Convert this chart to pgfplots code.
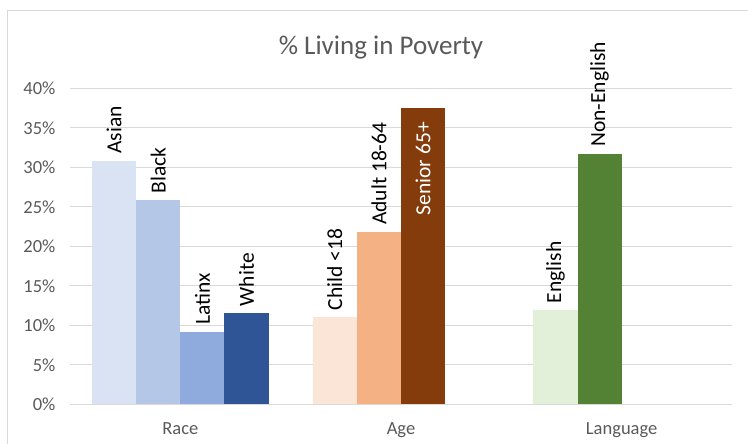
\documentclass[border=0pt]{standalone}
\usepackage{pgfplots}
\pgfplotsset{compat=1.18}
\usetikzlibrary{calc}
\usepackage{fontspec}
\setmainfont{Carlito}

\definecolor{txtgray}{HTML}{595959}
\definecolor{gridgray}{HTML}{D9D9D9}
\definecolor{asian}{HTML}{DAE3F3}
\definecolor{black2}{HTML}{B4C7E7}
\definecolor{latinx}{HTML}{8FAADC}
\definecolor{white2}{HTML}{2F5597}
\definecolor{child}{HTML}{FBE5D6}
\definecolor{adult}{HTML}{F4B183}
\definecolor{senior}{HTML}{843C0C}
\definecolor{english}{HTML}{E2F0D9}
\definecolor{nonenglish}{HTML}{548235}

\pgfplotsset{
  barlabel/.style={
    ybar, bar width=0.2, bar shift=0pt, draw=none, fill=#1,
    nodes near coords style={rotate=90, anchor=west, inner xsep=7pt, inner ysep=0pt,
      font=\fontsize{21.5}{24}\selectfont, text=black},
  },
}

\begin{document}
\begin{tikzpicture}
\begin{axis}[
  name=ax,
  at={(0pt,0pt)}, anchor=south west,
  scale only axis, width=662pt, height=316pt,
  xmin=-0.5, xmax=2.5, ymin=0, ymax=40,
  axis line style={draw=none},
  xtick={0,1,2}, xticklabels={Race,Age,Language},
  ytick={0,5,...,40},
  yticklabel={\pgfmathprintnumber{\tick}\%},
  /pgf/number format/assume math mode=true,
  tick style={draw=none},
  ymajorgrids, grid style={gridgray, line width=1pt},
  ticklabel style={text=txtgray, font=\fontsize{18.5}{21}\selectfont},
  yticklabel style={xshift=-11pt},
  xticklabel style={yshift=-15pt},
  clip=false,
]
% Race
\addplot[barlabel=asian, nodes near coords={Asian}] coordinates {(-0.3,30.8)};
\addplot[barlabel=black2, nodes near coords={Black}] coordinates {(-0.1,25.8)};
\addplot[barlabel=latinx, nodes near coords={Latinx}] coordinates {(0.1,9.2)};
\addplot[barlabel=white2, nodes near coords={White}] coordinates {(0.3,11.5)};
% Age
\addplot[barlabel=child, nodes near coords={Child <18}] coordinates {(0.7,11.0)};
\addplot[barlabel=adult, nodes near coords={Adult 18-64}] coordinates {(0.9,21.8)};
\addplot[barlabel=senior, nodes near coords={Senior 65+},
  nodes near coords style={anchor=east, inner xsep=14pt, text=white}] coordinates {(1.1,37.5)};
% Language
\addplot[barlabel=english, nodes near coords={English}] coordinates {(1.7,11.9)};
\addplot[barlabel=nonenglish, nodes near coords={Non-English}] coordinates {(1.9,31.7)};
\end{axis}
% page frame, chart border and title, measured from the plot area corner
\coordinate (o) at ($(ax.south west)+(-70pt,-39.7pt)$);
\draw[gridgray, line width=1pt] ($(o)+(8pt,0pt)$) -- ($(o)+(8pt,433pt)$) -- ($(o)+(748pt,433pt)$);
\node[text=txtgray, font=\fontsize{27}{30}\selectfont, anchor=base] at ($(o)+(381pt,389pt)$) {\% Living in Poverty};
\pgfresetboundingbox
\useasboundingbox (o) rectangle ($(o)+(748pt,444pt)$);
\end{tikzpicture}
\end{document}
